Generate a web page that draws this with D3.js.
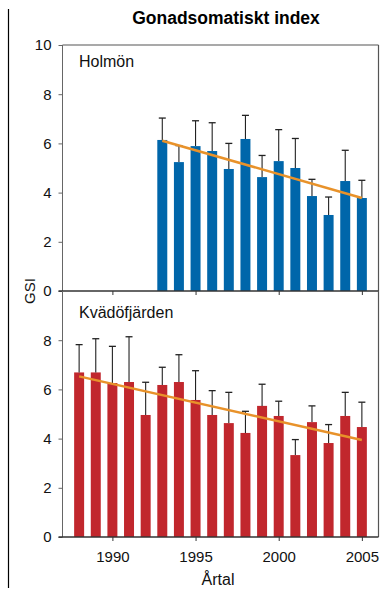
<!DOCTYPE html>
<html><head><meta charset="utf-8">
<script src="https://cdn.jsdelivr.net/npm/d3@7"></script>
<style>body{margin:0;background:#fff}svg{display:block;font-family:"Liberation Sans",Arial,sans-serif}</style>
</head><body><svg id="c" width="382" height="590"></svg>
<script>
const holmonYears = [1993,1994,1995,1996,1997,1998,1999,2000,2001,2002,2003,2004,2005];
const holmonGSI   = [6.14,5.24,5.89,5.69,4.96,6.18,4.63,5.28,5.00,3.86,3.09,4.47,3.78];
const holmonErr   = [7.03,5.91,6.92,6.84,6.00,7.14,5.51,6.56,6.20,4.54,3.82,5.72,4.50];
const holmonTrend = [[1993,6.11],[2005,3.78]];

const kvadYears = [1988,1989,1990,1991,1992,1993,1994,1995,1996,1997,1998,1999,2000,2001,2002,2003,2004,2005];
const kvadGSI   = [6.69,6.69,6.26,6.30,4.96,6.18,6.30,5.57,4.96,4.63,4.23,5.33,4.92,3.33,4.67,3.82,4.92,4.47];
const kvadErr   = [7.82,8.06,7.75,8.14,6.29,6.90,7.41,6.76,5.95,5.88,5.11,6.21,5.52,3.96,5.33,4.57,5.88,5.48];
const kvadTrend = [[1988,6.53],[2005,3.94]];

const xTicks = [1990,1995,2000,2005];
const topYTicks = [0,2,4,6,8,10];
const botYTicks = [0,2,4,6,8];

const svg = d3.select("#c");
const L = 62.5, R = 378.5;
const x = d3.scaleLinear().domain([1987, 2006]).range([L, R]);
const yTop = d3.scaleLinear().domain([0,10]).range([291, 45]);
const yBot = d3.scaleLinear().domain([0,10]).range([537, 291]);
const bw = (x(1) - x(0)) * 0.6;

// page border line
svg.append("line").attr("x1",8.5).attr("x2",8.5).attr("y1",9).attr("y2",588).attr("stroke","#000").attr("stroke-width",1.2);

// title
svg.append("text").attr("x",226).attr("y",24).attr("text-anchor","middle")
  .attr("font-weight","bold").attr("font-size",17.5).text("Gonadsomatiskt index");

function panel(y, years, vals, errs, trend, color, ticks, label, labelY){
  const g = svg.append("g");
  // frame
  g.append("line").attr("x1",L).attr("x2",L).attr("y1",y.range()[1]).attr("y2",y.range()[0]).attr("stroke","#666");
  g.append("line").attr("x1",R).attr("x2",R).attr("y1",y.range()[1]).attr("y2",y.range()[0]).attr("stroke","#555").attr("stroke-width",1.2);
  // y axis
  const ya = g.append("g").attr("transform",`translate(${L},0)`)
    .call(d3.axisLeft(y).tickValues(ticks).tickSize(4).tickPadding(7).tickFormat(d3.format("d")));
  ya.select(".domain").remove();
  ya.selectAll(".tick line").attr("stroke","#666");
  ya.selectAll("text").attr("font-size",15).attr("font-family","Liberation Sans, Arial, sans-serif").attr("fill","#111");
  // bars
  g.selectAll("rect.b").data(years).join("rect")
    .attr("x",d=>x(d)-bw/2).attr("width",bw)
    .attr("y",(d,i)=>y(vals[i])).attr("height",(d,i)=>y(0)-y(vals[i]))
    .attr("fill",color);
  // error bars
  g.selectAll("line.e").data(years).join("line")
    .attr("x1",d=>x(d)).attr("x2",d=>x(d))
    .attr("y1",(d,i)=>y(vals[i])).attr("y2",(d,i)=>y(errs[i]))
    .attr("stroke","#222").attr("stroke-width",1.1);
  g.selectAll("line.c").data(years).join("line")
    .attr("x1",d=>x(d)-3.5).attr("x2",d=>x(d)+3.5)
    .attr("y1",(d,i)=>y(errs[i])).attr("y2",(d,i)=>y(errs[i]))
    .attr("stroke","#222").attr("stroke-width",1.3);
  // trend
  g.append("path").datum(trend)
    .attr("d",d3.line().x(d=>x(d[0])).y(d=>y(d[1])))
    .attr("stroke","#E8922A").attr("stroke-width",2.5).attr("fill","none");
  // x axis
  const xa = g.append("g").attr("transform",`translate(0,${y(0)})`)
    .call(d3.axisBottom(x).tickValues(xTicks).tickSize(4).tickPadding(10).tickFormat(d3.format("d")));
  xa.select(".domain").attr("stroke","#333").attr("stroke-width",1.6).attr("d",`M${L-4},0H${R}`);
  xa.selectAll(".tick line").attr("stroke","#333");
  xa.selectAll("text").attr("font-size",15).attr("font-family","Liberation Sans, Arial, sans-serif").attr("fill","#111");
  g.append("text").attr("x",79).attr("y",labelY).attr("font-size",16).attr("fill","#111").text(label);
  return xa;
}

svg.append("line").attr("x1",L).attr("x2",R).attr("y1",45).attr("y2",45).attr("stroke","#555").attr("stroke-width",1.2);
const xaTop = panel(yTop, holmonYears, holmonGSI, holmonErr, holmonTrend, "#0066AA", topYTicks, "Holmön", 67);
xaTop.selectAll("text").remove();
panel(yBot, kvadYears, kvadGSI, kvadErr, kvadTrend, "#C1272D", botYTicks, "Kvädöfjärden", 318);

svg.append("text").attr("transform","translate(35,291) rotate(-90)").attr("text-anchor","middle")
  .attr("font-size",15).attr("fill","#111").text("GSI");
svg.append("text").attr("x",218).attr("y",585).attr("text-anchor","middle")
  .attr("font-size",16).attr("fill","#111").text("Årtal");
</script></body></html>
